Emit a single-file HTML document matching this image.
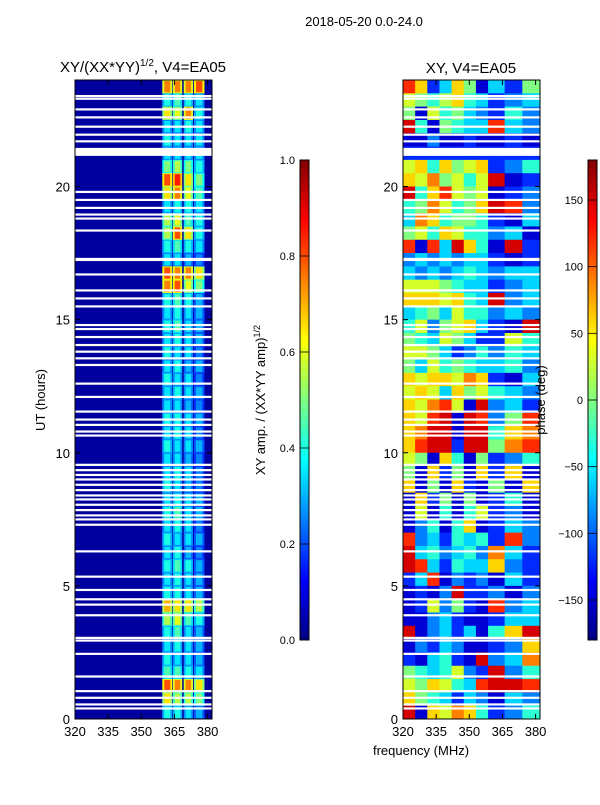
<!DOCTYPE html>
<html><head><meta charset="utf-8">
<style>
body{margin:0;background:#fff;}
svg text{font-family:"Liberation Sans",sans-serif;fill:#000;}
</style></head>
<body>
<svg id="fig" width="600" height="800" xmlns="http://www.w3.org/2000/svg">
<defs>
<linearGradient id="jet" x1="0" y1="1" x2="0" y2="0"></linearGradient>
</defs>
<text x="364" y="26" font-size="13" text-anchor="middle">2018-05-20 0.0-24.0</text>
<text x="143" y="72" font-size="15" text-anchor="middle">XY/(XX*YY)<tspan font-size="10" dy="-6">1/2</tspan><tspan dy="6">, V4=EA05</tspan></text>
<text x="471" y="73" font-size="15" text-anchor="middle">XY, V4=EA05</text>
<text transform="translate(45,400) rotate(-90)" font-size="13" text-anchor="middle">UT (hours)</text>
<text x="421" y="755" font-size="13" text-anchor="middle">frequency (MHz)</text>
<text transform="translate(265,400) rotate(-90)" font-size="13" text-anchor="middle">XY amp. / (XX*YY amp)<tspan font-size="9" dy="-5">1/2</tspan></text>
<g id="left"></g>
<g id="right"></g>
<text transform="translate(545,400) rotate(-90)" font-size="13" text-anchor="middle">phase (deg)</text>
<g id="cbars"></g>
</svg>
<script>
// ---- data ----
const flagHours=[23.4,23.3,22.9,22.6,22.25,21.95,21.7,19.8,19.5,19.2,18.95,18.8,18.35,17.25,16.7,16.1,15.8,15.5,14.8,14.65,14.35,14.05,13.8,13.55,13.3,12.6,12.1,11.55,11.25,11.05,10.8,10.65,9.55,9.35,9.17,9.0,8.8,8.6,8.4,8.25,8.05,7.85,7.65,7.5,7.3,6.3,5.35,4.85,4.5,4.3,3.9,3.05,2.95,2.45,1.6,1.05,0.8,0.55,0.4];
const flagBlocks=[[21.15,21.45],[17.2,17.32]];
const ampBandEdges=[[359.5,364],[364.3,368.5],[369.2,373.4],[373.8,378.6]];
const ampBackground=0.03;
// rows top-down, 0.5h each, starting at 24h
const ampRows=[
[0.7,0.7,0.7,0.75],[0.35,0.4,0.35,0.3],[0.6,0.55,0.7,0.35],[0.3,0.3,0.35,0.3],
[0.35,0.3,0.3,0.3],[0.3,0.3,0.3,0.3],[0.45,0.5,0.45,0.35],[0.75,0.8,0.6,0.45],
[0.6,0.7,0.55,0.4],[0.3,0.35,0.35,0.3],[0.5,0.55,0.4,0.35],[0.5,0.75,0.6,0.35],
[0.35,0.4,0.35,0.3],[0.3,0.3,0.25,0.2],[0.75,0.7,0.7,0.6],[0.7,0.75,0.55,0.45],
[0.35,0.4,0.35,0.25],[0.3,0.35,0.3,0.25],[0.35,0.4,0.3,0.25],[0.3,0.35,0.3,0.25],
[0.35,0.3,0.3,0.2],[0.3,0.35,0.25,0.25],[0.35,0.3,0.3,0.2],[0.3,0.35,0.3,0.25],
[0.3,0.3,0.25,0.2],[0.35,0.35,0.3,0.25],[0.3,0.35,0.3,0.2],[0.35,0.3,0.3,0.25],
[0.3,0.3,0.25,0.2],[0.3,0.35,0.3,0.2],[0.35,0.3,0.25,0.2],[0.3,0.35,0.3,0.25],
[0.35,0.4,0.3,0.25],[0.3,0.35,0.3,0.2],[0.35,0.3,0.3,0.25],[0.3,0.35,0.25,0.2],
[0.35,0.4,0.35,0.25],[0.3,0.35,0.3,0.25],[0.35,0.35,0.3,0.25],[0.65,0.6,0.6,0.5],
[0.5,0.55,0.4,0.35],[0.35,0.4,0.3,0.25],[0.3,0.35,0.3,0.25],[0.35,0.3,0.3,0.25],
[0.4,0.4,0.35,0.3],[0.75,0.7,0.7,0.6],[0.6,0.5,0.5,0.45],[0.35,0.35,0.3,0.25]];
const phaseFreqEdges=[320,325.5,331,336.5,342,347.5,353,358.5,366,374,382];
const phaseRows=[
[120,60,-120,-60,60,0,-150,-60,-120,0],[30,0,-30,20,60,-30,-60,-120,-90,-60],
[0,-150,30,-30,0,-60,-90,-120,-30,-90],[150,-30,-150,0,-30,-60,-60,120,-60,-90],
[-150,-150,-90,-150,-150,-120,-150,-150,-120,-150],[-120,-120,-120,-120,-120,-120,-120,-120,-120,-120],
[30,60,-30,60,0,30,60,-120,-90,-30],[60,30,90,0,30,-30,30,150,-150,-120],
[150,-30,60,120,30,0,30,-150,-120,-90],[-30,0,90,30,-30,0,60,150,120,-90],
[-60,90,60,-30,0,0,-30,-120,-150,-60],[0,30,-30,60,30,-30,-30,-90,-60,-150],
[120,-150,120,-60,150,60,-30,-150,150,-120],[-90,-60,-90,-60,-90,-60,-60,-120,-150,-120],
[-60,-90,-60,-90,-60,-30,-60,-90,-60,-60],[30,30,30,0,-30,-60,-60,-120,-90,-60],
[60,60,60,30,60,-30,-60,150,-90,-60],[-60,-30,0,-60,30,-30,-30,-90,-60,-90],
[-30,30,-90,0,30,60,-60,-120,-150,150],[0,-30,-60,30,0,-60,-120,-120,30,-30],
[30,30,0,-60,-120,-90,-30,-90,-30,-60],[0,-60,30,-30,0,-30,-60,-60,-30,-90],
[60,30,60,60,30,90,60,-120,-150,-60],[30,60,30,-60,60,0,30,-30,-60,-90],
[60,30,90,120,30,-150,150,-90,-60,-120],[60,30,120,150,-150,150,120,-90,0,120],
[60,90,150,150,-150,150,150,-30,60,90],[60,120,150,150,-120,150,150,0,90,120],
[30,0,-150,60,-30,-150,0,-120,-90,-30],[0,-150,60,-120,0,-150,60,-120,60,-150],
[60,-150,0,-150,60,-120,-150,0,-150,60],[-150,60,-120,0,-150,0,-150,-120,-30,-150],
[-150,30,-150,-30,-150,-30,30,-120,-90,-150],[-150,-90,-30,-150,-30,60,-150,-120,-60,-90],
[120,-90,-60,-120,-30,-60,-30,-120,120,-90],[150,-60,-30,-90,-60,-30,-90,90,-60,-120],
[150,120,-60,-120,-30,-60,-60,60,-90,-120],[-120,-60,120,-150,-90,-120,-90,-150,-60,-120],
[-150,-120,-150,-90,150,-120,-120,-90,-150,-90],[-150,-120,30,-90,0,-120,-150,120,-90,-60],
[-150,-150,-90,-60,-120,-150,-150,-120,-60,-60],[150,-150,-90,-60,-120,-60,-150,-30,60,150],
[-150,-90,-120,-60,-90,-150,-150,-120,-90,60],[-120,-150,-60,-30,-120,-150,150,-90,-60,90],
[0,-30,-60,-30,30,-90,-120,150,-90,-30],[30,0,60,30,-30,-60,120,150,150,120],
[60,0,-30,-60,-120,-60,-90,-150,-60,-90],[150,-150,60,30,90,60,-30,-120,-90,-30]];
const xTicks=[320,335,350,365,380];
const yTicks=[0,5,10,15,20];
const ampTicks=[0.0,0.2,0.4,0.6,0.8,1.0];
const phaseTicks=[-150,-100,-50,0,50,100,150];

// ---- helpers ----
const NS="http://www.w3.org/2000/svg";
function mk(tag,attrs,parent){const e=document.createElementNS(NS,tag);for(const k in attrs)e.setAttribute(k,attrs[k]);parent.appendChild(e);return e;}
function jet(v){v=Math.max(0,Math.min(1,v));
 const f=x=>Math.round(255*Math.max(0,Math.min(1,x)));
 const r=f(Math.min(4*v-1.5,-4*v+4.5)),g=f(Math.min(4*v-0.5,-4*v+3.5)),b=f(Math.min(4*v+0.5,-4*v+2.5));
 return `rgb(${r},${g},${b})`;}
const grad=document.getElementById('jet');
for(let i=0;i<=40;i++){mk('stop',{offset:i/40,'stop-color':jet(i/40)},grad);}
const Y0=80,Y1=719;
const yScale=h=>Y1-(h/24)*(Y1-Y0);
function xScaleFor(x0,x1){return f=>x0+(f-320)/(382-320)*(x1-x0);}

function panel(g,x0,x1,drawCells,prefix){
 const xs=xScaleFor(x0,x1);
 drawCells(g,xs);
 flagHours.forEach(h=>{const r=mk('rect',{x:x0,y:yScale(h)-1,width:x1-x0,height:2.2,fill:'#fff'},g);
  
  });
 flagBlocks.forEach(b=>{const r=mk('rect',{x:x0,y:yScale(b[1]),width:x1-x0,height:yScale(b[0])-yScale(b[1]),fill:'#fff'},g);
  
  });
 mk('rect',{x:x0,y:Y0,width:x1-x0,height:Y1-Y0,fill:'none',stroke:'#000','stroke-width':1},g);
 xTicks.forEach(t=>{const x=xs(t);
  mk('line',{x1:x,x2:x,y1:Y1,y2:Y1-5,stroke:'#000'},g);mk('line',{x1:x,x2:x,y1:Y0,y2:Y0+5,stroke:'#000'},g);
  const tx=mk('text',{x:x,y:Y1+17,'font-size':13,'text-anchor':'middle'},g);tx.textContent=t;
  
  });
 yTicks.forEach(t=>{const y=yScale(t);
  mk('line',{x1:x0,x2:x0+5,y1:y,y2:y,stroke:'#000'},g);mk('line',{x1:x1,x2:x1-5,y1:y,y2:y,stroke:'#000'},g);
  const tx=mk('text',{x:x0-5,y:y+5,'font-size':13,'text-anchor':'end'},g);tx.textContent=t;
  
  });
}

// left amplitude
panel(document.getElementById('left'),75,212,(g,xs)=>{
 mk('rect',{x:75,y:Y0,width:137,height:Y1-Y0,fill:jet(ampBackground)},g);
 ampRows.forEach((row,i)=>{const hTop=24-i*0.5,hBot=hTop-0.5;
  row.forEach((v,j)=>{const e=ampBandEdges[j];const xa=xs(e[0]),xb=xs(e[1]);const w=xb-xa;
   const r1=mk('rect',{x:xa,y:yScale(hTop),width:w,height:yScale(hBot)-yScale(hTop)+0.5,fill:jet(v*0.85)},g);
   
   
   const r2=mk('rect',{x:xa+w*0.2,y:yScale(hTop)+1,width:w*0.6,height:yScale(hBot)-yScale(hTop)-2,fill:jet(v+0.05)},g);
   
   });});
},'left');

// right phase
panel(document.getElementById('right'),403,540,(g,xs)=>{
 phaseRows.forEach((row,i)=>{const hTop=24-i*0.5,hBot=hTop-0.5;
  row.forEach((v,j)=>{const xa=xs(phaseFreqEdges[j]),xb=xs(phaseFreqEdges[j+1]);
   const r=mk('rect',{x:xa,y:yScale(hTop),width:xb-xa+0.5,height:yScale(hBot)-yScale(hTop)+0.5,fill:jet((v+180)/360)},g);
   
   });});
},'right');

// colorbars
const cb=document.getElementById('cbars');
function colorbar(x,ticks,vmin,vmax,name,fmt){
 const g=mk('g',{},cb);
 
 
 mk('rect',{x:x,y:160,width:9,height:480,fill:'url(#jet)',stroke:'#000','stroke-width':1},g);
 ticks.forEach(t=>{const y=640-(t-vmin)/(vmax-vmin)*480;
  mk('line',{x1:x,x2:x+9,y1:y,y2:y,stroke:'#000','stroke-width':0.8},g);
  const tx=mk('text',{x:x-5,y:y+4,'font-size':11,'text-anchor':'end'},g);tx.textContent=fmt(t);
  
  });
}
colorbar(300,ampTicks,0,1,'amp-colorbar',t=>t.toFixed(1));
colorbar(588,phaseTicks,-180,180,'phase-colorbar',t=>t<0?'\u2212'+(-t):String(t));
</script>
</body></html>
